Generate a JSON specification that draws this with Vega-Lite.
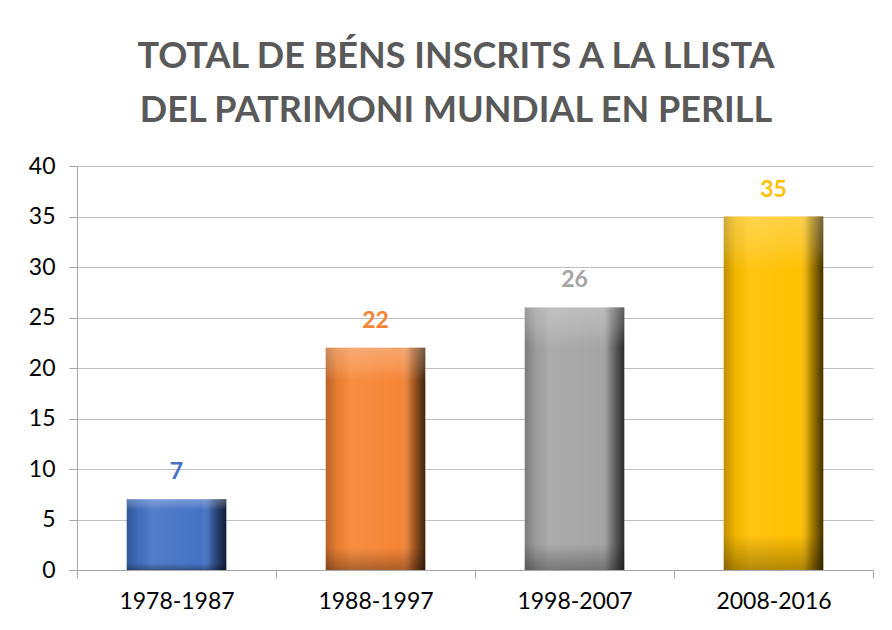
{
  "$schema": "https://vega.github.io/schema/vega-lite/v6.json",
  "width": 796,
  "height": 404,
  "autosize": {"type": "none"},
  "padding": {"left": 77, "top": 166, "right": 19, "bottom": 60},
  "background": "white",
  "config": {"view": {"stroke": null}},
  "title": {
    "text": ["TOTAL DE BÉNS INSCRITS A LA LLISTA", "DEL PATRIMONI MUNDIAL EN PERILL"],
    "font": "Lato",
    "fontSize": 36,
    "fontWeight": "bold",
    "color": "#595959",
    "lineHeight": 54,
    "anchor": "middle",
    "dx": -19,
    "offset": 25
  },
  "data": {
    "values": [
      {"period": "1978-1987", "count": 7},
      {"period": "1988-1997", "count": 22},
      {"period": "1998-2007", "count": 26},
      {"period": "2008-2016", "count": 35}
    ]
  },
  "encoding": {
    "x": {
      "field": "period",
      "type": "nominal",
      "sort": null,
      "scale": {"paddingInner": 0, "paddingOuter": 0},
      "axis": {
        "title": null,
        "labelAngle": 0,
        "tickBand": "extent",
        "tickSize": 8,
        "tickColor": "#A6A6A6",
        "domainColor": "#A6A6A6",
        "labelFont": "Lato",
        "labelFontSize": 23,
        "labelColor": "#000000",
        "labelPadding": 12
      }
    }
  },
  "layer": [
    {
      "mark": {"type": "bar", "width": {"band": 0.5}},
      "encoding": {
        "y": {"field": "count", "type": "quantitative", "scale": {"domain": [0, 40]},
          "axis": {
            "title": null,
            "values": [0, 5, 10, 15, 20, 25, 30, 35, 40],
            "grid": true,
            "gridColor": "#BFBFBF",
            "tickSize": 8,
            "tickColor": "#A6A6A6",
            "domainColor": "#A6A6A6",
            "labelFont": "Lato",
            "labelFontSize": 23,
            "labelColor": "#000000",
            "labelPadding": 14
          }
        },
        "color": {
          "field": "period",
          "type": "nominal",
          "sort": null,
          "scale": {"domain": ["1978-1987", "1988-1997", "1998-2007", "2008-2016"], "range": ["#4472C4", "#F58535", "#A5A5A5", "#FFC000"]},
          "legend": null
        }
      }
    },
    {
      "mark": {
        "type": "bar",
        "width": {"band": 0.5},
        "fill": {
          "gradient": "linear", "x1": 0, "y1": 0, "x2": 1, "y2": 0,
          "stops": [
            {"offset": 0, "color": "rgba(0,0,0,0.25)"},
            {"offset": 0.12, "color": "rgba(0,0,0,0.05)"},
            {"offset": 0.25, "color": "rgba(255,255,255,0.08)"},
            {"offset": 0.75, "color": "rgba(255,255,255,0.0)"},
            {"offset": 0.86, "color": "rgba(0,0,0,0.25)"},
            {"offset": 1, "color": "rgba(0,0,0,0.75)"}
          ]
        }
      },
      "encoding": {"y": {"field": "count", "type": "quantitative"}}
    },
    {
      "mark": {
        "type": "bar",
        "width": {"band": 0.5},
        "fill": {
          "gradient": "linear", "x1": 0, "y1": 0, "x2": 0, "y2": 1,
          "stops": [
            {"offset": 0, "color": "rgba(255,255,255,0.25)"},
            {"offset": 0.08, "color": "rgba(255,255,255,0.15)"},
            {"offset": 0.15, "color": "rgba(255,255,255,0)"},
            {"offset": 0.9, "color": "rgba(0,0,0,0)"},
            {"offset": 1, "color": "rgba(0,0,0,0.3)"}
          ]
        }
      },
      "encoding": {"y": {"field": "count", "type": "quantitative"}}
    },
    {
      "mark": {"type": "text", "dy": -20, "baseline": "alphabetic", "font": "Lato", "fontSize": 23, "fontWeight": "bold"},
      "encoding": {
        "y": {"field": "count", "type": "quantitative"},
        "text": {"field": "count", "type": "quantitative"},
        "color": {
          "field": "period",
          "type": "nominal",
          "sort": null,
          "scale": {"domain": ["1978-1987", "1988-1997", "1998-2007", "2008-2016"], "range": ["#4472C4", "#ED7D31", "#A5A5A5", "#FFC000"]},
          "legend": null
        }
      }
    }
  ]
}
